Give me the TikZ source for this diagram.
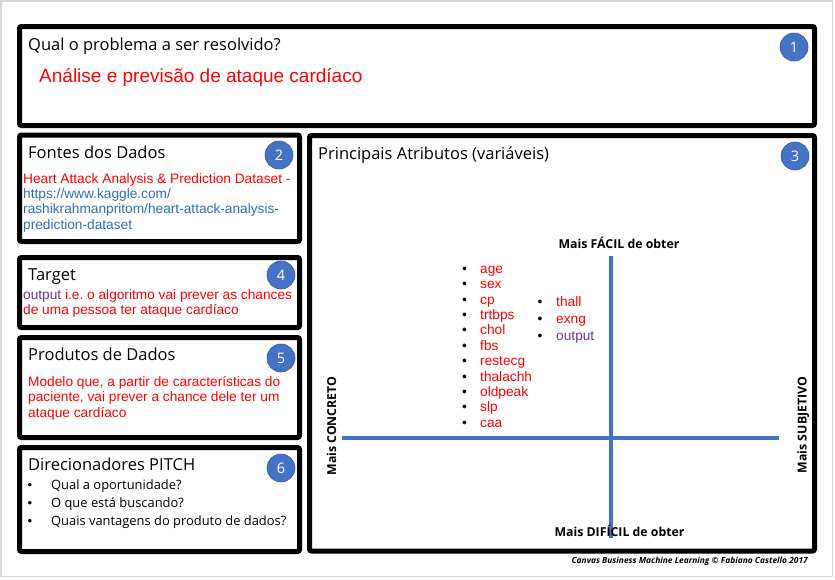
\documentclass[tikz,border=0pt]{standalone}
\usepackage{fontspec}
\setmainfont{Open Sans}
\newfontfamily\arialf{Liberation Sans}
\frenchspacing
\definecolor{pblue}{RGB}{68,114,196}
\definecolor{lblue}{RGB}{46,110,181}
\definecolor{ppurple}{RGB}{112,48,160}
\definecolor{pred}{RGB}{255,0,0}
\tikzset{
  box/.style={draw=black, line width=5pt, rounded corners=2pt},
  num/.style={circle, fill=pblue, draw=pblue!80!black, line width=0.6pt, minimum size=28pt, inner sep=0pt, text=white, font=\fontsize{14.5}{14.5}\selectfont},
  ttl/.style={anchor=base west, inner sep=0pt, font=\fontsize{16.5}{16.5}\selectfont},
  redt/.style={anchor=base west, inner sep=0pt, text=pred, font=\arialf\fontsize{13.7}{13.7}\selectfont},
  bul/.style={anchor=base west, inner sep=0pt, font=\fontsize{12.9}{12.9}\selectfont},
  bdot/.style={anchor=base west, inner sep=0pt, font=\arialf\fontsize{13}{13}\selectfont},
  axl/.style={inner sep=0pt, font=\bfseries\fontsize{12.3}{12.3}\selectfont},
  axis/.style={draw=pblue, line width=4pt},
  lst/.style={anchor=base west, inner sep=0pt, text=pred, font=\arialf\fontsize{13.7}{13.7}\selectfont},
  dot/.style={anchor=base west, inner sep=0pt, font=\arialf\fontsize{13.7}{13.7}\selectfont}
}
\begin{document}
\begin{tikzpicture}[x=1pt,y=-1pt]
\useasboundingbox (0,0) rectangle (835,579);
\fill[white] (0,0) rectangle (835,579);
\draw[black!15, line width=1.5pt] (0.75,0.75) rectangle (832.5,576.5);
% boxes
\draw[box] (19.5,26.5) rectangle (814.5,125.5);
\draw[box] (19.5,135) rectangle (299.5,241.5);
\draw[box] (309.5,135.5) rectangle (814.5,551);
\draw[box] (19.5,257.5) rectangle (299.5,327.5);
\draw[box] (19.5,337.5) rectangle (299.5,437.5);
\draw[box] (19.5,447.5) rectangle (299.5,551.5);
% numbers
\node[num] (n1) at (794,47) {1};
\node[num] (n2) at (279,155) {2};
\node[num] (n3) at (795,156) {3};
\node[num] (n4) at (281,275) {4};
\node[num] (n5) at (281,358) {5};
\node[num] (n6) at (281,468) {6};
% box 1
\node[ttl] (t1) at (28,50) {Qual o problema a ser resolvido?};
\node[anchor=base west, inner sep=0pt, text=pred, font=\arialf\fontsize{19}{19}\selectfont] (a1) at (39,82) {Análise e previsão de ataque cardíaco};
% box 2
\node[ttl] (t2) at (28,158) {Fontes dos Dados};
\node[redt] (a2) at (23,183) {Heart Attack Analysis \& Prediction Dataset -};
\node[redt, text=lblue] (a2b) at (23,198.3) {https://www.kaggle.com/};
\node[redt, text=lblue] (a2c) at (23,213.6) {rashikrahmanpritom/heart-attack-analysis-};
\node[redt, text=lblue] (a2d) at (23,229) {prediction-dataset};
% box 4
\node[ttl] (t4) at (28,280) {Target};
\node[redt] (a4) at (23,299.3) {\textcolor{ppurple}{output} i.e. o algoritmo vai prever as chances};
\node[redt] (a4b) at (23,314.3) {de uma pessoa ter ataque cardíaco};
% box 5
\node[ttl] (t5) at (28,360) {Produtos de Dados};
\node[redt] (a5) at (28,386) {Modelo que, a partir de características do};
\node[redt] (a5b) at (28,401.5) {paciente, vai prever a chance dele ter um};
\node[redt] (a5c) at (28,417) {ataque cardíaco};
% box 6
\node[ttl] (t6) at (28,470) {Direcionadores PITCH};
\node[bdot] (d1) at (27.5,489.3) {•};
\node[bul] (e1) at (51,489.3) {Qual a oportunidade?};
\node[bdot] (d2) at (27.5,507) {•};
\node[bul] (e2) at (51,507) {O que está buscando?};
\node[bdot] (d3) at (27.5,525) {•};
\node[bul] (e3) at (51,525) {Quais vantagens do produto de dados?};
% box 3
\node[ttl] (t3) at (318,159) {Principais Atributos (variáveis)};
\coordinate (vt) at (610.5,256);
\coordinate (vb) at (610.5,538);
\coordinate (hl) at (342,438);
\coordinate (hr) at (779,438);
\draw[axis] (vt) -- (vb);
\draw[axis] (hl) -- (hr);
\node[axl, anchor=base] (ft) at (619,248.3) {Mais FÁCIL de obter};
\node[axl, anchor=base] (df) at (619.5,536.7) {Mais DIFÍCIL de obter};
\node[axl, anchor=base, rotate=90] (cc) at (336,426) {Mais CONCRETO};
\node[axl, anchor=base, rotate=90] (sb) at (806.5,425) {Mais SUBJETIVO};
% list 1
\foreach \t [count=\i from 0] in {age,sex,cp,trtbps,chol,fbs,restecg,thalachh,oldpeak,slp,caa}{
  \node[dot] (p\i) at (462,273.3+15.4*\i) {•};
  \node[lst] (l\i) at (480,273.3+15.4*\i) {\t};
}
\node[dot] (q0) at (537.5,306.7) {•};
\node[lst] (m0) at (556,306.7) {thall};
\node[dot] (q1) at (537.5,323.3) {•};
\node[lst] (m1) at (556,323.3) {exng};
\node[dot] (q2) at (537.5,340) {•};
\node[lst, text=ppurple] (m2) at (556,340) {output};
% footer
\node[anchor=base east, inner sep=0pt, font=\bfseries\itshape\fontsize{8.4}{8.4}\selectfont] (fo) at (808,563) {Canvas Business Machine Learning © Fabiano Castello 2017};
\end{tikzpicture}
\end{document}
